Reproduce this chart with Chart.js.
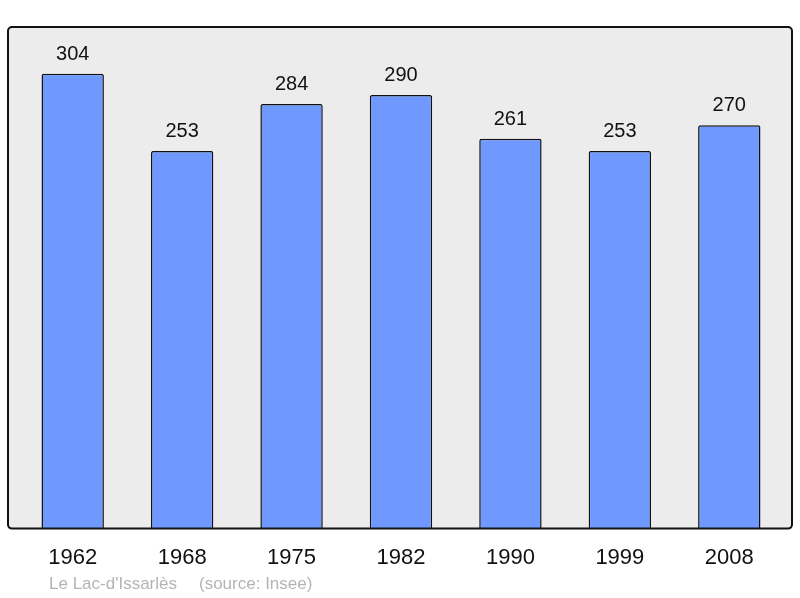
<!DOCTYPE html>
<html>
<head>
<meta charset="utf-8">
<script src="https://cdn.jsdelivr.net/npm/chart.js@4.4.1/dist/chart.umd.min.js"></script>
<style>
  html, body { margin: 0; padding: 0; background: #fff; }
  #chart { display: block; }
</style>
</head>
<body>
<canvas id="chart" width="800" height="598"></canvas>
<script>
const years = ['1962', '1968', '1975', '1982', '1990', '1999', '2008'];
const population = [304, 253, 284, 290, 261, 253, 270];
const placeName = "Le Lac-d'Issarlès";
const sourceText = '(source: Insee)';

const frameAndLabels = {
    id: 'frameAndLabels',
    beforeDatasetsDraw: (chart) => {
        const {ctx, chartArea} = chart;
        const x0 = chartArea.left - 10, x1 = chartArea.right + 8;
        const y0 = chartArea.top, y1 = chartArea.bottom;
        ctx.save();
        ctx.beginPath();
        ctx.roundRect(x0, y0, x1 - x0, y1 - y0, 4);
        ctx.fillStyle = '#ececec';
        ctx.fill();
        ctx.restore();
    },
    afterDatasetsDraw: (chart) => {
        const {ctx, chartArea} = chart;
        const x0 = chartArea.left - 10, x1 = chartArea.right + 8;
        const y0 = chartArea.top, y1 = chartArea.bottom;
        ctx.save();
        ctx.beginPath();
        ctx.roundRect(x0, y0, x1 - x0, y1 - y0, 4);
        ctx.lineWidth = 2;
        ctx.strokeStyle = '#111';
        ctx.stroke();

        // values above bars
        ctx.fillStyle = '#111';
        ctx.font = "20px 'Liberation Sans', Arial, sans-serif";
        ctx.textAlign = 'center';
        ctx.textBaseline = 'alphabetic';
        chart.getDatasetMeta(0).data.forEach((bar, i) => {
            ctx.fillText(String(population[i]), bar.x, bar.y - 14);
        });

        // footer
        ctx.fillStyle = '#b4b4b4';
        ctx.font = "17px 'Liberation Sans', Arial, sans-serif";
        ctx.textAlign = 'left';
        ctx.fillText(placeName, 49, 589);
        ctx.fillText(sourceText, 199, 589);
        ctx.restore();
    }
};

new Chart(document.getElementById('chart'), {
    type: 'bar',
    data: {
        labels: years,
        datasets: [{
            data: population,
            backgroundColor: '#7099ff',
            borderColor: '#111',
            borderWidth: 1.5,
            borderRadius: 2,
            borderSkipped: 'bottom',
            categoryPercentage: 1,
            barPercentage: 0.57
        }]
    },
    plugins: [frameAndLabels],
    options: {
        responsive: false,
        animation: false,
        devicePixelRatio: 1,
        layout: { padding: { top: 27, left: 18, right: 16, bottom: 19 } },
        scales: {
            x: {
                grid: { display: false },
                border: { display: false },
                ticks: {
                    color: '#111',
                    padding: 8,
                    font: { size: 22, family: "'Liberation Sans', Arial, sans-serif" }
                }
            },
            y: {
                display: false,
                min: 3,
                max: 335
            }
        },
        plugins: {
            legend: { display: false },
            tooltip: { enabled: false }
        }
    }
});
</script>
</body>
</html>
